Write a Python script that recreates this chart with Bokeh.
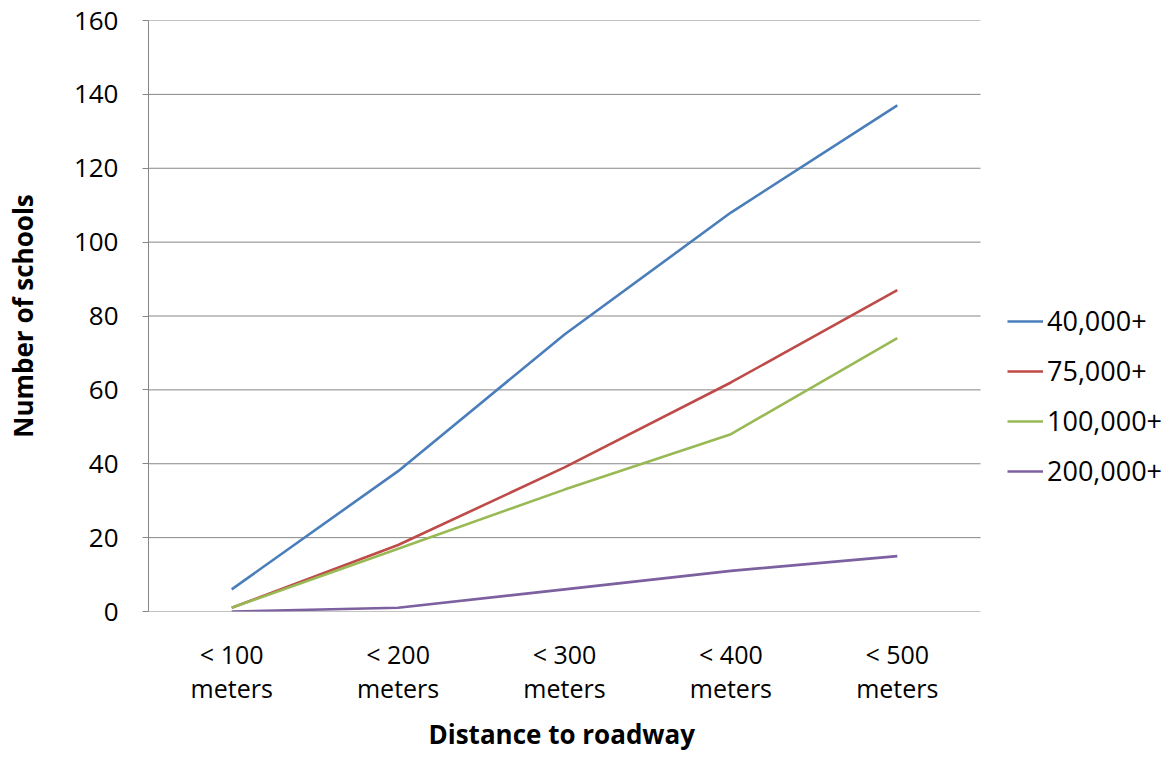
from bokeh.plotting import figure
from bokeh.models import Legend, LegendItem, Range1d, FixedTicker, Title
from bokeh.embed import file_html
from bokeh.resources import INLINE

categories = ["< 100\nmeters", "< 200\nmeters", "< 300\nmeters", "< 400\nmeters", "< 500\nmeters"]
series_names = ["40,000+", "75,000+", "100,000+", "200,000+"]
s40k = [6, 38, 75, 108, 137]
s75k = [1, 18, 39, 62, 87]
s100k = [1, 17, 33, 48, 74]
s200k = [0, 1, 6, 11, 15]
y_ticks = [0, 20, 40, 60, 80, 100, 120, 140, 160]
colors = ["#4A7EBB", "#BE4B48", "#98B954", "#7D60A0"]
x_title = "Distance to roadway"
y_title = "Number of schools"

FONT = "Open Sans"
W, H = 1172, 757
LEFT, PLOT_RIGHT = 148, 980

xpos = list(range(1, len(categories) + 1))
x_start = 0.5
x_cat_end = len(categories) + 0.5
# frame runs to the right edge so the legend can sit beside the plotting area
x_end = x_start + (x_cat_end - x_start) * (W - LEFT) / (PLOT_RIGHT - LEFT)

p = figure(width=W, height=H, output_backend="svg", toolbar_location=None,
           x_range=Range1d(x_start, x_end), y_range=Range1d(0, 160),
           min_border_left=LEFT, min_border_right=0, min_border_top=20, min_border_bottom=146)
p.outline_line_color = None
p.background_fill_color = "white"
p.border_fill_color = "white"
p.xgrid.grid_line_color = None
p.ygrid.grid_line_color = None

# horizontal gridlines limited to the category area
p.segment(x0=[x_start] * len(y_ticks), x1=[x_cat_end] * len(y_ticks), y0=y_ticks, y1=y_ticks,
          line_color="#868686", line_width=1)

renderers = []
for name, vals, c in zip(series_names, [s40k, s75k, s100k, s200k], colors):
    r = p.line(x=xpos, y=vals, line_color=c, line_width=2.6)
    renderers.append((name, r))

# y axis
p.yaxis.ticker = FixedTicker(ticks=y_ticks)
p.yaxis.axis_line_color = "#868686"
p.yaxis.major_tick_line_color = "#868686"
p.yaxis.major_tick_out = 6
p.yaxis.major_tick_in = 0
p.yaxis.minor_tick_line_color = None
p.yaxis.major_label_text_font = FONT
p.yaxis.major_label_text_font_size = "26px"
p.yaxis.major_label_text_color = "#000000"
p.yaxis.major_label_standoff = 24
p.yaxis.axis_label = y_title
p.yaxis.axis_label_text_font = FONT
p.yaxis.axis_label_text_font_size = "26px"
p.yaxis.axis_label_text_font_style = "bold"
p.yaxis.axis_label_text_color = "#000000"
p.yaxis.axis_label_standoff = 30

# x axis
p.xaxis.ticker = FixedTicker(ticks=xpos)
p.xaxis.major_label_overrides = {x: c for x, c in zip(xpos, categories)}
p.xaxis.axis_line_color = None
p.xaxis.major_tick_line_color = None
p.xaxis.minor_tick_line_color = None
p.xaxis.major_label_text_font = FONT
p.xaxis.major_label_text_font_size = "25px"
p.xaxis.major_label_text_line_height = 1.0
p.xaxis.major_label_text_color = "#000000"
p.xaxis.major_label_standoff = 19

# x title placed under the category area
p.add_layout(Title(text=x_title, align="left", offset=280,
                   text_font=FONT, text_font_size="26px", text_font_style="bold",
                   text_color="#000000", standoff=12), "below")

legend = Legend(items=[LegendItem(label=n, renderers=[r]) for n, r in renderers],
                location=(PLOT_RIGHT - LEFT + 27, 122), orientation="vertical",
                glyph_width=36, glyph_height=20, label_height=20, label_standoff=4,
                spacing=13, padding=0, margin=0,
                border_line_color=None, background_fill_alpha=0,
                label_text_font=FONT, label_text_font_size="27px", label_text_color="#000000")
p.add_layout(legend)

open("out.html", "w").write(file_html(p, INLINE))
